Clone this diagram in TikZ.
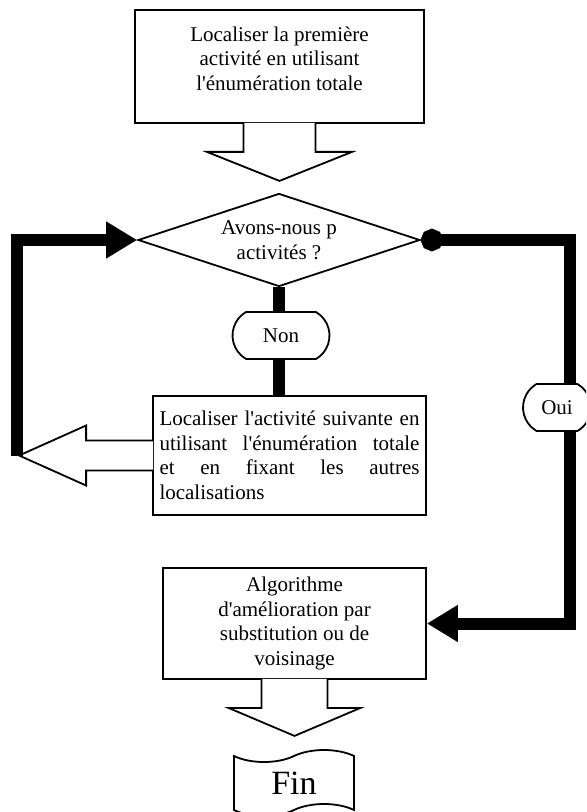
\documentclass[tikz,border=0pt]{standalone}
\usepackage{fontspec}
\setmainfont{Liberation Serif}
\usepackage{tikz}
\usetikzlibrary{arrows.meta,shapes.geometric,shapes.misc,shapes.symbols}
\newcommand{\apo}{\textquotesingle}

\begin{document}
\begin{tikzpicture}[x=0.5pt, y=-0.5pt,
                    every node/.style={font=\fontsize{10.5}{12.25}\selectfont},
                    boite/.style={draw=black, line width=0.9pt, fill=white,
                    inner sep=0pt, align=center},
                    reponse/.style={draw=black, line width=0.9pt, fill=white,
                    rounded rectangle, rounded rectangle arc length=120,
                    minimum height=23.5pt, inner sep=0pt},
                    creuse/.style={draw=black, line width=0.9pt, fill=white,
                    line join=miter},
                    epais/.style={line width=6pt, line join=miter}]
                        \useasboundingbox (0,0) rectangle (586,812);
                        \clip (0,0) rectangle (586,812);
                        \node[boite, minimum width=144.5pt, minimum height=56.5pt,
                        label={[yshift=4pt, align=center]center:Localiser la
                        première\\activité en utilisant\\l\apo énumération totale}]
                        (premiere) at (279.5,66.5) {};
                        \node[diamond, aspect=3, draw=black, line width=0.9pt,
                        fill=white, minimum width=141pt, minimum height=46.5pt,
                        inner sep=0pt, align=center] (question) at (279,240)
                        {Avons-nous p\\activités ?};
                        \node[boite, minimum width=136.5pt, minimum height=59.5pt,
                        align=left] (suivante) at (289.5,455.5)
                        {\makebox[130pt][s]{Localiser l\apo activité suivante en}\\
                        \makebox[130pt][s]{utilisant l\apo énumération totale}\\
                        \makebox[130pt][s]{et en fixant les autres}\\
                        localisations};
                        \node[boite, minimum width=131.5pt, minimum height=55.5pt]
                        (algo) at (294.5,623.5) {Algorithme\\d\apo amélioration
                        par\\substitution ou de\\voisinage};
                        \node[tape, draw=black, line width=0.9pt, fill=white,
                        minimum width=60pt, minimum height=33pt,
                        tape bend height=6pt, inner sep=0pt,
                        font=\fontsize{17}{20}\selectfont] (fin) at (294,783) {Fin};
                        \filldraw[creuse] ([xshift=-18pt,yshift=0.5pt]premiere.south)
                        -- ++(0,29) -- ++(-36.5,0) -- ++(72.5,29) -- ++(72.5,-29)
                        -- ++(-36.5,0) -- ++(0,-29);
                        \filldraw[creuse] ([xshift=0.5pt,yshift=7.5pt]suivante.west)
                        -- ++(-67,0) -- ++(0,-15) -- ++(-67,30) coordinate (pointe)
                        -- ++(67,30) -- ++(0,-15) -- ++(67,0);
                        \filldraw[creuse] ([xshift=-16.5pt,yshift=0.5pt]algo.south)
                        -- ++(0,29) -- ++(-33,0) -- ++(66,28) -- ++(66,-28)
                        -- ++(-33,0) -- ++(0,-29);
                        \coordinate (coinG) at (17,240);
                        \coordinate (coinD) at (570,240);
                        \draw[epais, -{Triangle[length=15.5pt, width=17.5pt]}]
                        (coinG |- pointe) -- (coinG) -- (question.west);
                        \draw[epais, {Circle[length=11pt]}-{Triangle[length=15.5pt,
                        width=17.5pt]}] (question.east) -- (coinD)
                        -- (coinD |- algo.east) -- (algo.east);
                        \draw[epais] (question.south) -- (question.south |- suivante.north);
                        \node[reponse, minimum width=48.5pt] (non) at (281,335.5) {Non};
                        \node[reponse, minimum width=34pt] (oui) at (557,407.5) {Oui};
                    \end{tikzpicture}
\end{document}
